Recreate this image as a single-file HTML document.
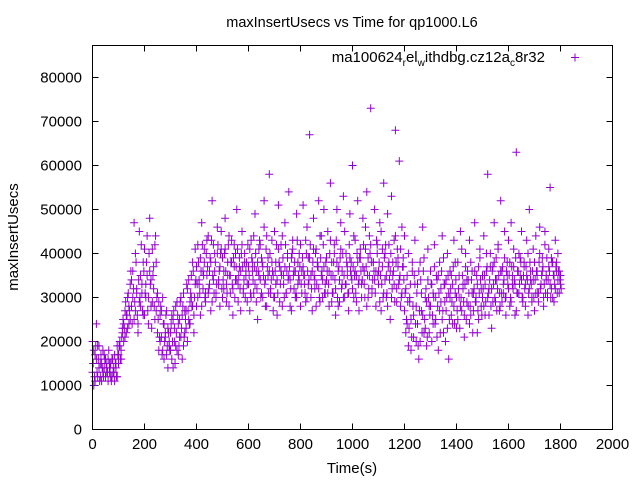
<!DOCTYPE html>
<html><head><meta charset="utf-8"><style>body{margin:0;background:#fff}svg{display:block;font-family:"Liberation Sans",sans-serif}</style></head>
<body>
<svg id="chart" width="640" height="480" viewBox="0 0 640 480">
<rect width="640" height="480" fill="#fff"/>
<text x="352" y="27" font-size="14.5" text-anchor="middle">maxInsertUsecs vs Time for qp1000.L6</text>
<text x="352" y="473" font-size="15" text-anchor="middle">Time(s)</text>
<text x="0" y="0" font-size="15" text-anchor="middle" transform="translate(18,237) rotate(-90)">maxInsertUsecs</text>
<g id="axes"></g>
<g id="points"></g>
<g>
<text x="545" y="62" font-size="15" text-anchor="end">ma100624<tspan font-size="10" dy="4">r</tspan><tspan dy="-4">el</tspan><tspan font-size="10" dy="4">w</tspan><tspan dy="-4">ithdbg.cz12a</tspan><tspan font-size="10" dy="4">c</tspan><tspan dy="-4">8r32</tspan></text>
<path d="M571 57.5h8M575 53.5v8" stroke="#9400d3" stroke-width="1"/>
</g>
<rect x="92.5" y="45.5" width="520" height="384" fill="none" stroke="#000" stroke-width="1"/>
</svg>
<script>
const xTicks=[0,200,400,600,800,1000,1200,1400,1600,1800,2000];
const yTicks=[0,10000,20000,30000,40000,50000,60000,70000,80000];
const timeStep=5;
const ysA=[13,18,11,16,19,14,12,15,13,17,12,14,16,13,15,12,14,17,15,19,
17,20,18,22,24,21,26,23,28,25,34,30,47,27,32,24,29,35,31,38,
26,33,44,30,36,28,41,32,25,38,22,29,20,27,18,24,21,17,23,19,
22,16,25,20,28,18,24,21,30,26,19,27,23,32,25,29,35,28,22,33,
37,30,34,39,28,36,41,31,35,44,33,38,29,42,36,31,40,34,37,45,
30,36,41,33,38,28,35,43,32,37,40,34,29,39,36,42,31,38,35,33,
37,41,30,36,44,33,29,38,35,42,31,37,46,34,28,39,36,32,43,35,
30,38,34,41,29,36,44,33,37,31,40,35,28,39,43,32,36,30,38,34,
42,31,37,35,29,46,33,39,30,36,41,34,28,38,32,44,35,30,37,33,
39,31,36,43,29,35,40,32,38,28,34,41,36,30,45,33,37,31,39,35,
32,44,36,29,38,34,41,30,37,33,46,28,39,35,42,31,38,34,36,40,
33,29,45,37,31,40,35,28,42,36,30,38,33,44,29,37,34,41,31,39,
27,22,35,19,30,25,38,21,33,28,24,36,20,31,26,39,23,29,34,22,
28,33,24,37,30,21,35,27,32,25,39,29,34,23,31,36,26,33,28,38,
30,25,35,28,41,32,26,37,29,34,24,38,31,27,36,30,33,25,39,32,
35,28,33,40,30,26,37,32,29,38,34,27,42,31,36,29,33,39,30,35,
32,38,29,35,41,33,27,36,31,39,34,30,37,28,35,40,32,36,29,34,
38,31,35,29,40,33,36,30,42,34,31,37,33,39,30,35,32,38,34,36,33];
const ysB=[20,10,17,24,12,19,15,11,18,14,16,13,11,15,12,16,13,11,14,12,
15,19,16,23,20,27,22,30,24,33,28,36,25,40,31,22,45,28,33,26,
41,30,35,24,48,34,29,37,42,27,31,18,26,21,30,16,22,27,14,20,
18,26,14,23,19,29,17,25,21,16,31,22,27,20,34,24,30,38,26,41,
28,42,33,26,47,32,38,29,43,31,36,27,52,34,40,30,46,33,28,41,
39,32,48,29,35,44,31,38,26,42,34,50,33,37,27,45,32,40,36,29,
33,27,43,38,31,49,36,25,41,34,39,30,52,28,44,35,58,31,38,27,
45,33,26,51,37,42,28,35,47,31,39,54,34,27,41,36,30,49,33,40,
28,36,51,33,43,30,39,67,35,27,48,32,41,37,52,29,44,34,50,31,
34,45,28,56,38,31,42,26,50,36,29,47,33,53,30,40,35,27,49,38,
60,30,43,35,52,27,39,33,48,36,41,54,30,44,73,32,38,50,28,42,
36,47,27,41,56,34,30,49,38,25,53,35,43,68,32,39,61,28,46,37,
44,32,24,40,29,18,36,26,43,20,33,16,38,27,46,22,30,19,41,28,
36,20,31,42,25,34,18,38,29,44,22,33,27,40,16,30,35,24,43,31,
23,38,30,45,27,33,21,40,34,28,43,26,36,31,47,29,22,37,41,28,
30,44,26,36,58,32,40,23,37,47,29,34,41,27,52,36,31,45,26,38,
43,28,47,33,37,26,63,31,40,35,45,29,38,33,43,26,50,34,30,41,
27,44,36,31,46,33,39,28,45,35,30,41,55,32,38,29,43,36,40,31,35];
const ysC=[15,12,19,13,16,11,17,14,12,16,15,13,18,14,11,16,13,15,12,17,
19,16,21,25,23,29,26,31,27,36,24,32,29,38,26,34,30,42,27,36,
31,38,27,40,33,23,35,28,44,30,25,21,28,17,24,20,26,19,22,18,
24,20,27,15,22,26,19,29,23,28,21,25,33,27,24,31,28,36,30,34,
33,38,31,36,42,35,30,40,37,32,39,43,35,31,38,33,42,36,40,32,
34,40,36,31,42,35,38,33,39,30,37,41,35,32,40,37,34,30,38,42,
35,31,39,34,37,40,32,36,43,30,38,35,33,41,37,31,40,34,36,30,
36,42,31,38,33,35,39,30,42,36,34,37,32,40,35,38,31,43,35,37,
33,39,35,31,40,36,34,42,32,38,35,40,33,37,30,39,36,42,31,38,
36,33,40,35,31,38,34,43,30,37,39,32,40,35,33,38,31,42,36,34,
37,35,31,40,33,39,36,34,42,30,37,35,32,40,38,34,36,31,43,35,
38,35,33,30,39,42,31,37,34,40,32,36,29,38,41,33,35,30,37,34,
31,25,29,23,33,21,28,35,24,31,19,27,34,22,36,25,32,21,30,26,
33,26,30,24,35,28,31,22,36,27,33,20,30,35,25,32,29,37,24,34,
27,32,23,30,35,29,33,25,36,31,28,34,22,32,29,35,27,31,34,26,
32,35,29,37,31,34,28,36,33,30,39,32,35,28,31,37,34,30,36,33,
35,30,37,32,34,39,31,36,33,38,30,35,32,37,34,31,38,33,36,30,
34,36,31,38,32,35,37,33,31,39,34,36,30,38,35,33,37,31,36,34,32];
const NS='http://www.w3.org/2000/svg';
const X0=92.5,X1=612.5,Y0=429.5,YPX=4.4/1000;
function sx(v){return X0+(v-0)*(X1-X0)/2000;}
function sy(v){return Y0-v*YPX;}
const axes=document.getElementById('axes');
xTicks.forEach(t=>{const x=sx(t);
 const p=document.createElementNS(NS,'path');p.setAttribute('d',`M${x} ${Y0}v-6M${x} 45.5v6`);p.setAttribute('stroke','#000');
 
 
 axes.appendChild(p);
 const tx=document.createElementNS(NS,'text');tx.setAttribute('x',x);tx.setAttribute('y',449);tx.setAttribute('font-size','15');tx.setAttribute('text-anchor','middle');tx.textContent=t;
 
 
 axes.appendChild(tx);});
yTicks.forEach(t=>{const y=sy(t);
 const p=document.createElementNS(NS,'path');p.setAttribute('d',`M${X0} ${y}h6M${X1} ${y}h-6`);p.setAttribute('stroke','#000');
 
 
 axes.appendChild(p);
 const tx=document.createElementNS(NS,'text');tx.setAttribute('x',82);tx.setAttribute('y',y+5);tx.setAttribute('font-size','15');tx.setAttribute('text-anchor','end');tx.textContent=t;
 
 
 axes.appendChild(tx);});
const pts=document.getElementById('points');
[[ysA,0],[ysB,0],[ysC,2.5]].forEach(([arr,off])=>arr.forEach((v,i)=>{
 const x=sx(i*timeStep+off),y=sy(v*1000);
 const p=document.createElementNS(NS,'path');
 p.setAttribute('d',`M${x-4} ${y}h8M${x} ${y-4}v8`);
 p.setAttribute('stroke','#9400d3');p.setAttribute('stroke-width','1');p.setAttribute('fill','none');
 
 
 pts.appendChild(p);}));
</script>
</body></html>
